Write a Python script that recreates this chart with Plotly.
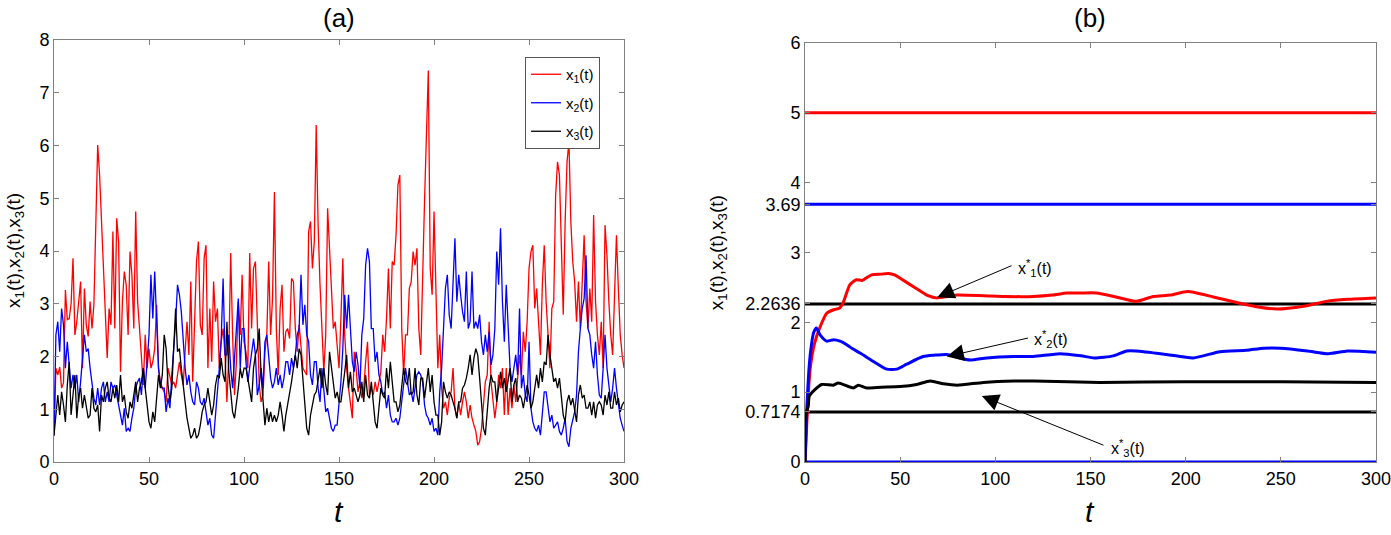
import plotly.graph_objects as go

# ---------------- data: panel (a), sampled at t = 0, 1, ..., 300 ----------------
t_a = list(range(0, 301))

x1_vals = [
    0.5, 1.78, 1.65, 1.8, 1.40, 1.5, 3.26, 2.7, 2.72, 3.0,
    3.86, 2.41, 2.66, 3.04, 3.42, 1.78, 3.29, 2.6, 2.38, 3.04,
    2.53, 2.98, 4.30, 6.01, 5.44, 4.56, 3.8, 3.04, 1.97, 2.91,
    2.6, 4.37, 2.53, 4.62, 4.18, 1.71, 3.04, 3.61, 3.36, 2.41,
    3.99, 3.55, 2.53, 4.75, 3.04, 2.53, 1.90, 1.46, 2.41, 1.78,
    2.15, 1.78, 1.90, 2.15, 2.98, 1.78, 1.52, 1.40, 1.33, 1.14,
    1.78, 1.59, 1.46, 1.52, 1.40, 1.65, 1.90, 1.65, 1.46, 2.09,
    2.66, 2.03, 3.42, 1.52, 2.60, 3.80, 4.18, 2.6, 2.41, 3.86,
    4.11, 1.78, 2.91, 1.90, 3.42, 2.66, 2.91, 1.78, 2.28, 2.53,
    2.03, 1.14, 2.03, 3.96, 2.41, 1.27, 1.90, 3.04, 2.41, 3.55,
    2.28, 2.09, 1.78, 3.96, 2.53, 3.67, 3.80, 2.41, 1.46, 1.14,
    1.27, 2.09, 2.41, 3.80, 2.41, 3.10, 5.12, 2.53, 1.65, 2.91,
    3.36, 2.09, 2.47, 2.53, 2.34, 3.48, 3.42, 2.53, 2.09, 2.60,
    2.15, 1.78, 1.71, 1.65, 4.37, 4.56, 3.67, 4.18, 6.39, 4.49,
    3.36, 2.53, 1.71, 2.41, 4.81, 4.05, 3.36, 2.53, 2.66, 2.28,
    1.78, 2.72, 3.86, 2.41, 1.78, 1.40, 1.14, 0.83, 2.09, 1.78,
    1.33, 1.52, 1.21, 1.40, 1.90, 2.28, 1.27, 1.40, 1.27, 1.52,
    1.33, 1.52, 1.71, 2.41, 2.09, 2.72, 3.67, 2.53, 3.80, 3.73,
    4.30, 5.25, 5.44, 2.53, 1.65, 2.41, 2.41, 3.29, 3.42, 3.99,
    3.73, 4.05, 2.53, 2.03, 3.80, 4.94, 6.2, 7.42, 3.67, 3.17,
    4.75, 3.04, 1.78, 2.41, 1.40, 1.02, 1.14, 0.89, 1.21, 1.33,
    1.78, 1.02, 0.83, 1.14, 0.89, 1.14, 1.33, 1.14, 0.83, 1.08,
    0.83, 0.70, 0.58, 0.32, 0.39, 0.64, 1.14, 1.52, 1.65, 2.66,
    1.52, 1.14, 0.83, 1.14, 1.65, 1.40, 1.78, 0.89, 1.78, 0.89,
    1.40, 1.02, 1.46, 1.14, 1.52, 2.03, 1.65, 2.47, 2.09, 2.66,
    3.67, 3.99, 4.11, 2.91, 3.29, 2.53, 2.03, 3.36, 4.11, 3.04,
    2.41, 1.78, 2.91, 3.04, 5.06, 5.69, 5.44, 4.18, 2.79, 4.56,
    5.69, 6.07, 4.56, 3.80, 3.42, 2.66, 3.42, 2.53, 3.42, 4.30,
    3.04, 2.53, 3.29, 2.66, 4.68, 3.04, 2.41, 2.03, 2.66, 1.78,
    4.49, 3.92, 3.04, 2.41, 2.03, 3.17, 4.30, 3.29, 2.41, 2.03,
    1.78,
]

x2_vals = [
    0.5, 2.41, 2.66, 2.09, 2.91, 2.6, 1.78, 2.28, 1.84, 1.40,
    1.65, 1.40, 1.65, 1.14, 1.52, 2.03, 2.41, 2.09, 2.15, 1.78,
    1.46, 1.21, 1.08, 1.40, 1.08, 1.40, 1.52, 1.14, 1.33, 1.14,
    1.52, 1.40, 1.46, 1.27, 1.02, 0.83, 0.70, 1.02, 0.58, 0.64,
    0.58, 0.83, 1.02, 1.40, 1.52, 1.59, 1.27, 1.78, 1.40, 1.90,
    2.41, 3.55, 2.72, 3.61, 2.66, 1.78, 1.46, 1.40, 1.40, 0.95,
    1.21, 1.02, 1.65, 2.15, 2.66, 3.36, 3.17, 2.85, 2.28, 1.78,
    1.46, 1.65, 1.33, 1.14, 1.08, 1.52, 1.40, 1.14, 1.08, 1.21,
    0.95, 0.70, 0.83, 0.51, 0.45, 0.89, 1.27, 1.78, 2.34, 3.48,
    2.03, 2.03, 2.41, 1.78, 1.40, 1.90, 2.41, 3.10, 1.78, 2.53,
    2.53, 1.90, 1.52, 1.78, 2.09, 2.34, 2.03, 1.27, 1.46, 1.78,
    1.40, 2.28, 2.41, 1.90, 1.59, 1.40, 1.52, 1.78, 1.46, 1.65,
    1.40, 1.59, 1.90, 1.90, 1.65, 1.97, 1.78, 2.03, 2.41, 2.53,
    3.55, 2.60, 2.98, 2.41, 2.28, 1.65, 1.46, 1.90, 1.90, 1.40,
    1.14, 1.78, 1.27, 0.95, 1.02, 0.83, 0.64, 0.58, 0.70, 0.70,
    1.14, 1.52, 2.15, 3.17, 2.53, 3.17, 2.53, 1.90, 1.71, 2.09,
    1.84, 1.40, 2.41, 2.72, 3.73, 4.05, 3.80, 2.53, 2.53, 1.90,
    2.09, 1.65, 1.52, 1.27, 1.33, 1.02, 1.27, 0.89, 0.76, 0.76,
    0.83, 0.70, 0.83, 1.14, 1.52, 1.78, 1.52, 1.27, 1.33, 1.14,
    1.40, 1.65, 1.71, 1.65, 1.52, 1.08, 0.89, 0.83, 0.70, 0.83,
    0.58, 0.64, 0.51, 1.33, 1.78, 2.53, 3.29, 3.55, 2.79, 2.53,
    3.42, 4.24, 3.04, 3.55, 3.17, 2.85, 2.66, 3.61, 2.53, 2.66,
    3.61, 2.53, 2.66, 2.53, 2.79, 2.28, 2.03, 2.41, 2.09, 2.47,
    1.84, 2.03, 2.53, 3.99, 3.36, 4.43, 3.04, 2.28, 3.36, 2.66,
    1.78, 1.52, 1.78, 2.03, 1.65, 2.91, 1.40, 1.65, 1.27, 1.14,
    2.28, 1.02, 0.76, 0.64, 0.58, 0.70, 0.51, 0.95, 1.33, 1.33,
    1.02, 0.76, 0.89, 0.64, 0.70, 0.76, 0.58, 0.51, 0.64, 0.83,
    0.39, 0.29, 0.64, 0.83, 0.95, 1.27, 2.09, 2.53, 2.91, 3.10,
    3.92, 2.53, 2.41, 2.03, 1.78, 2.28, 1.65, 1.27, 1.21, 1.78,
    2.41, 1.78, 1.40, 1.14, 1.40, 1.78, 1.40, 1.14, 0.83, 0.70,
    0.58,
]

x3_vals = [
    0.51, 0.95, 1.27, 0.89, 1.33, 1.08, 0.76, 1.46, 1.90, 0.89,
    1.27, 1.65, 0.83, 1.27, 1.40, 1.02, 1.27, 1.02, 0.83, 0.89,
    1.40, 1.02, 0.95, 1.08, 0.58, 1.27, 1.14, 1.40, 1.52, 1.21,
    1.14, 1.40, 1.21, 1.46, 1.14, 1.65, 1.14, 1.27, 0.95, 0.83,
    1.14, 1.02, 1.27, 1.52, 1.14, 1.40, 1.52, 1.78, 1.40, 1.08,
    0.76, 0.64, 0.95, 0.76, 1.14, 1.65, 1.40, 1.65, 2.41, 2.15,
    1.46, 1.14, 1.40, 2.22, 2.91, 2.09, 2.15, 1.78, 1.40, 1.14,
    0.83, 0.64, 0.45, 0.51, 0.64, 0.45, 0.51, 0.70, 0.95, 1.08,
    1.14, 1.40, 1.14, 0.89, 1.08, 1.46, 1.65, 1.59, 1.97, 1.65,
    1.52, 2.66, 1.71, 1.33, 0.95, 0.83, 1.08, 1.40, 1.78, 1.59,
    1.78, 1.78, 1.59, 1.40, 1.14, 1.78, 2.03, 2.15, 2.53, 1.65,
    1.21, 0.70, 1.02, 0.76, 0.95, 0.76, 0.89, 0.76, 0.89, 1.14,
    0.89, 0.58, 0.89, 1.08, 1.27, 1.52, 1.78, 2.03, 1.78, 2.15,
    2.03, 1.59, 1.14, 0.64, 0.51, 0.89, 1.08, 1.27, 1.33, 1.52,
    1.78, 1.40, 1.78, 1.46, 1.27, 2.09, 1.78, 1.40, 1.21, 1.33,
    1.14, 1.14, 1.40, 1.71, 2.03, 1.40, 1.71, 1.33, 1.40, 1.27,
    1.14, 1.27, 1.52, 1.14, 1.65, 1.27, 1.21, 1.52, 1.14, 0.76,
    0.64, 1.08, 1.40, 1.27, 1.21, 1.78, 1.40, 1.90, 1.46, 1.14,
    1.14, 0.95, 1.08, 1.40, 1.78, 1.52, 1.46, 1.78, 1.27, 1.33,
    1.78, 1.27, 1.08, 1.59, 1.59, 1.21, 1.46, 1.78, 1.33, 1.65,
    1.14, 0.89, 0.89, 0.51, 0.76, 1.52, 1.33, 1.21, 1.33, 1.27,
    1.14, 1.02, 0.83, 1.14, 1.14, 1.40, 1.46, 1.59, 1.78, 2.03,
    1.65, 1.97, 2.15, 2.03, 1.59, 1.02, 0.64, 0.51, 1.02, 1.40,
    1.65, 1.52, 1.52, 1.14, 1.40, 1.71, 1.40, 1.59, 1.33, 1.52,
    1.78, 1.14, 1.46, 1.59, 1.14, 1.27, 1.21, 1.02, 1.21, 1.46,
    1.27, 1.02, 1.14, 1.40, 1.65, 1.40, 1.78, 1.52, 1.90, 1.84,
    2.41, 2.03, 1.78, 1.52, 1.59, 1.40, 1.59, 1.21, 0.89, 0.76,
    1.14, 1.27, 1.08, 1.21, 0.95, 0.76, 1.27, 1.46, 1.21, 1.27,
    1.02, 1.02, 1.14, 0.89, 1.14, 0.83, 1.08, 1.14, 1.08, 0.89,
    1.27, 1.08, 1.33, 1.02, 1.02, 1.33, 1.08, 1.21, 0.95, 1.08,
    1.14,
]

# ---------------- data: panel (b), time averages ----------------
m1_t = [0, 1, 2, 3, 5, 8, 11.4, 15, 18, 20, 23.6, 27, 30, 35, 40, 43.7, 47, 50, 57, 64, 69,
        75, 80, 94, 105, 120, 130, 137.5, 145, 153, 164, 174, 183, 192, 201, 215, 229, 238,
        248, 262, 274, 285, 300]
m1_v = [0, 0.6, 1.1, 1.4, 1.7, 1.94, 2.13, 2.18, 2.2, 2.28, 2.54, 2.61, 2.6, 2.68, 2.69, 2.70,
        2.68, 2.63, 2.51, 2.39, 2.35, 2.37, 2.39, 2.38, 2.37, 2.37, 2.39, 2.42, 2.42, 2.42,
        2.36, 2.30, 2.37, 2.39, 2.44, 2.36, 2.27, 2.22, 2.19, 2.23, 2.30, 2.33, 2.35]

m2_t = [0, 1, 2, 3, 4.5, 6, 7.9, 11.4, 15, 18.4, 21.9, 25, 28.9, 35.9, 42.9, 48.2, 53.4, 62,
        68, 74.5, 80, 86.7, 95.5, 110, 120, 134, 145, 152, 162, 169, 174, 190, 204, 218, 232,
        241, 250, 264, 275, 285, 300]
m2_v = [0, 0.8, 1.3, 1.6, 1.85, 1.92, 1.82, 1.73, 1.75, 1.73, 1.68, 1.62, 1.56, 1.44, 1.33,
        1.33, 1.40, 1.51, 1.53, 1.54, 1.50, 1.46, 1.49, 1.51, 1.51, 1.55, 1.52, 1.49, 1.52,
        1.59, 1.59, 1.54, 1.49, 1.58, 1.60, 1.63, 1.63, 1.59, 1.55, 1.59, 1.57]

m3_t = [0, 0, 0.5, 1.7, 2.2, 5.3, 8.8, 14.9, 17.5, 25.4, 28, 32.4, 40, 50, 58.7, 65.7, 72.7,
        80, 93.7, 110, 120, 155, 200, 250, 300]
m3_v = [0, 0.6, 0.7, 0.80, 0.94, 1.04, 1.11, 1.10, 1.13, 1.06, 1.10, 1.06, 1.07, 1.08, 1.11,
        1.16, 1.12, 1.10, 1.14, 1.16, 1.16, 1.14, 1.15, 1.15, 1.14]

ref_levels = [5.0, 3.69, 2.2636, 0.7174, 0.0]
ref_colors = ["red", "blue", "black", "black", "blue"]
t_span = [0, 300]

ticks_b = [0, 0.7174, 1, 2, 2.2636, 3, 3.69, 4, 5, 6]
ticks_b_text = ["0", "0.7174", "1", "2", "2.2636", "3", "3.69", "4", "5", "6"]

# ---------------- figure ----------------
FONT = "Liberation Sans, Arial, Helvetica, sans-serif"
fig = go.Figure()

names = ["x<sub>1</sub>(t)", "x<sub>2</sub>(t)", "x<sub>3</sub>(t)"]
cols = ["#ff0000", "#0000ff", "#000000"]
for i, (vals, nm, c) in enumerate(zip([x1_vals, x2_vals, x3_vals], names, cols)):
    fig.add_trace(go.Scatter(x=t_a, y=vals, mode="lines", name=nm,
                             line=dict(color=c, width=1.3),
                             legendgroup=f"g{i}", xaxis="x", yaxis="y"))

for lvl, c in zip(ref_levels, ref_colors):
    fig.add_trace(go.Scatter(x=t_span, y=[lvl, lvl], mode="lines", showlegend=False,
                             line=dict(color=c, width=3), xaxis="x2", yaxis="y2"))

for tt, vv, c in [(m1_t, m1_v, "red"), (m2_t, m2_v, "blue"), (m3_t, m3_v, "black")]:
    fig.add_trace(go.Scatter(x=tt, y=vv, mode="lines", showlegend=False,
                             line=dict(color=c, width=3, shape="spline", smoothing=0.6),
                             xaxis="x2", yaxis="y2"))

axis_common = dict(showline=True, linecolor="#808080", linewidth=1, mirror="ticks",
                   ticks="inside", ticklen=5, tickcolor="#808080", showgrid=False,
                   zeroline=False, automargin=False, ticklabeloverflow="allow",
                   tickfont=dict(family=FONT, size=18, color="black"))

fig.update_layout(
    width=1391, height=535, autosize=False,
    margin=dict(l=54, r=15, t=40, b=73),
    paper_bgcolor="white", plot_bgcolor="white",
    font=dict(family=FONT, color="black"),
    xaxis=dict(domain=[0, 0.4312], range=[0, 300], tickvals=[0, 50, 100, 150, 200, 250, 300],
               anchor="y", **axis_common),
    yaxis=dict(domain=[0, 1], range=[0, 8], tickvals=list(range(0, 9)), anchor="x",
               **axis_common),
    xaxis2=dict(domain=[0.5681, 1.0], range=[0, 300],
                tickvals=[0, 50, 100, 150, 200, 250, 300], anchor="y2", **axis_common),
    yaxis2=dict(domain=[0, 0.993], range=[0, 6], tickvals=ticks_b, ticktext=ticks_b_text,
                anchor="x2", **axis_common),
    legend=dict(x=0.3563, y=0.9597, xanchor="left", yanchor="top",
                bgcolor="white", bordercolor="#555555", borderwidth=1,
                font=dict(family=FONT, size=15, color="black"),
                tracegroupgap=6, itemwidth=30),
    showlegend=True,
)

ann = []
# panel titles
for xc, lab in [(0.2156, "(a)"), (0.7840, "(b)")]:
    ann.append(dict(text=lab, x=xc, y=1.052, xref="paper", yref="paper",
                    showarrow=False, font=dict(size=26, family=FONT), xanchor="center",
                    yanchor="middle"))
# x titles
for xc in [0.2156, 0.7840]:
    ann.append(dict(text="<i>t</i>", x=xc, y=-0.118, xref="paper", yref="paper",
                    showarrow=False, font=dict(size=30, family=FONT), xanchor="center",
                    yanchor="middle"))
# y titles
ytitle = "x<sub>1</sub>(t),x<sub>2</sub>(t),x<sub>3</sub>(t)"
ann.append(dict(text=ytitle, x=-0.0295, y=0.5, xref="paper", yref="paper",
                showarrow=False, textangle=-90, font=dict(size=19, family=FONT),
                xanchor="center", yanchor="middle"))
ann.append(dict(text=ytitle, x=0.5023, y=0.495, xref="paper", yref="paper",
                showarrow=False, textangle=-90, font=dict(size=19, family=FONT),
                xanchor="center", yanchor="middle"))

# arrows in panel (b)
arrows = [
    ((69.5, 2.36), (109.3, 2.82), (111.0, 2.78), "x<sup>*</sup><sub>1</sub>(t)"),
    ((74.5, 1.51), (118.0, 1.78), (119.3, 1.76), "x<sup>*</sup><sub>2</sub>(t)"),
    ((92.9, 0.944), (157.6, 0.232), (159.7, 0.20), "x<sup>*</sup><sub>3</sub>(t)"),
]
for head, tail, txt_pos, txt in arrows:
    ann.append(dict(x=head[0], y=head[1], xref="x2", yref="y2",
                    ax=tail[0], ay=tail[1], axref="x2", ayref="y2",
                    text="", showarrow=True, arrowhead=2, arrowsize=3.4,
                    arrowwidth=1, arrowcolor="black"))
    ann.append(dict(x=txt_pos[0], y=txt_pos[1], xref="x2", yref="y2", text=txt,
                    showarrow=False, xanchor="left", yanchor="middle",
                    font=dict(size=16, family=FONT)))

fig.update_layout(annotations=ann)

fig.write_html("out.html",
               config={"displayModeBar": False, "responsive": False},
               post_script="document.body.style.margin='0';document.body.style.padding='0';"
                           "document.documentElement.style.overflow='hidden';")
